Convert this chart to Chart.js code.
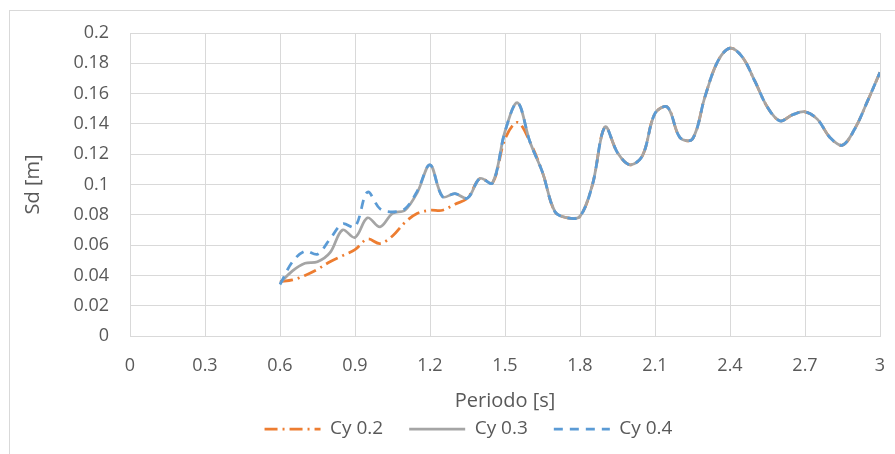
<html>

<head>
    <script src="https://cdn.jsdelivr.net/npm/chart.js"></script>
    <style>
        html, body {
            margin: 0;
            padding: 0;
            background: #ffffff;
            overflow: hidden;
        }

        #frame {
            position: absolute;
            left: 9px;
            top: 10px;
            width: 1000px;
            height: 1000px;
            border: 1px solid #d9d9d9;
        }

        #chart-container {
            position: absolute;
            left: 0;
            top: 0;
            width: 895px;
            height: 454px;
        }
    </style>
</head>

<body>
    <div id="frame"></div>
    <div id="chart-container">
        <canvas id="sd-chart"></canvas>
    </div>

    <script>
        // periods [s]
        const periods = [
            0.6, 0.65, 0.7, 0.75, 0.8, 0.85, 0.9, 0.95, 1.0, 1.05,
            1.1, 1.15, 1.2, 1.25, 1.3, 1.35, 1.4, 1.45, 1.5, 1.55,
            1.6, 1.65, 1.7, 1.75, 1.8, 1.85, 1.9, 1.95, 2.0, 2.05,
            2.1, 2.15, 2.2, 2.25, 2.3, 2.35, 2.4, 2.45, 2.5, 2.55,
            2.6, 2.65, 2.7, 2.75, 2.8, 2.85, 2.9, 2.95, 3.0
        ];

        // spectral displacement Sd [m]
        const sdCy02 = [
            0.036, 0.037, 0.040, 0.044, 0.049, 0.053, 0.057, 0.064, 0.061, 0.066,
            0.075, 0.081, 0.083, 0.083, 0.087, 0.091, 0.104, 0.101, 0.130, 0.141,
            0.128, 0.108, 0.082, 0.078, 0.079, 0.100, 0.138, 0.121, 0.113, 0.119,
            0.147, 0.151, 0.131, 0.130, 0.158, 0.181, 0.190, 0.184, 0.168, 0.151,
            0.142, 0.146, 0.148, 0.143, 0.131, 0.126, 0.137, 0.155, 0.174
        ];
        const sdCy03 = [
            0.035, 0.043, 0.048, 0.049, 0.055, 0.070, 0.065, 0.078, 0.072, 0.081,
            0.083, 0.095, 0.113, 0.092, 0.094, 0.091, 0.104, 0.101, 0.135, 0.154,
            0.128, 0.108, 0.082, 0.078, 0.079, 0.100, 0.138, 0.121, 0.113, 0.119,
            0.147, 0.151, 0.131, 0.130, 0.158, 0.181, 0.190, 0.184, 0.168, 0.151,
            0.142, 0.146, 0.148, 0.143, 0.131, 0.126, 0.137, 0.155, 0.174
        ];
        const sdCy04 = [
            0.034, 0.049, 0.056, 0.054, 0.064, 0.074, 0.072, 0.095, 0.084, 0.082,
            0.084, 0.096, 0.113, 0.092, 0.094, 0.091, 0.104, 0.101, 0.135, 0.154,
            0.128, 0.108, 0.082, 0.078, 0.079, 0.100, 0.138, 0.121, 0.113, 0.119,
            0.147, 0.151, 0.131, 0.130, 0.158, 0.181, 0.190, 0.184, 0.168, 0.151,
            0.142, 0.146, 0.148, 0.143, 0.131, 0.126, 0.137, 0.155, 0.174
        ];

        const seriesNames = ['Cy 0.2', 'Cy 0.3', 'Cy 0.4'];

        function toPoints(values) {
            return periods.map((t, i) => ({ x: t, y: values[i] }));
        }

        Chart.defaults.font.family = "'Open Sans', sans-serif";
        Chart.defaults.color = '#595959';

        const lineBase = {
            borderWidth: 2.75,
            pointRadius: 0,
            pointHoverRadius: 0,
            pointStyle: 'line',
            fill: false,
            tension: 0.35,
            borderCapStyle: 'butt'
        };

        // left padding pushes the centred legend to the right; the y axis
        // shrinks by the same amount so the plot still starts at x = 130
        const PAD_LEFT = 57;

        // legend samples use the line style of each dataset (dash, width)
        function legendLabels(chart) {
            const items = Chart.defaults.plugins.legend.labels.generateLabels(chart);
            items.forEach((item) => {
                const ds = chart.data.datasets[item.datasetIndex];
                item.lineDash = ds.borderDash || [];
                item.lineWidth = ds.borderWidth;
                item.strokeStyle = ds.borderColor;
                item.fillStyle = ds.borderColor;
            });
            return items;
        }

        const ctx = document.getElementById('sd-chart').getContext('2d');
        const chart = new Chart(ctx, {
            type: 'line',
            data: {
                datasets: [
                    Object.assign({}, lineBase, {
                        label: seriesNames[0],
                        data: toPoints(sdCy02),
                        borderColor: '#ED7D31',
                        borderDash: [13, 5, 2, 5],
                        order: 2
                    }),
                    Object.assign({}, lineBase, {
                        label: seriesNames[1],
                        data: toPoints(sdCy03),
                        borderColor: '#A5A5A5',
                        order: 1
                    }),
                    Object.assign({}, lineBase, {
                        label: seriesNames[2],
                        data: toPoints(sdCy04),
                        borderColor: '#5B9BD5',
                        borderDash: [9, 7],
                        order: 0
                    })
                ]
            },
            options: {
                responsive: true,
                maintainAspectRatio: false,
                animation: false,
                layout: {
                    padding: { left: PAD_LEFT, right: 15, top: 33, bottom: 5.5 }
                },
                plugins: {
                    tooltip: { enabled: false },
                    legend: {
                        position: 'bottom',
                        labels: {
                            usePointStyle: true,
                            pointStyleWidth: 56,
                            padding: 26,
                            color: '#595959',
                            font: { size: 19 },
                            generateLabels: legendLabels,
                            sort: (a, b) => a.datasetIndex - b.datasetIndex
                        }
                    }
                },
                scales: {
                    x: {
                        type: 'linear',
                        min: 0,
                        max: 3,
                        afterFit: (scale) => { scale.height = 57.5; },
                        grid: {
                            color: '#d9d9d9',
                            lineWidth: 1,
                            drawTicks: true,
                            tickLength: 19,
                            tickColor: 'rgba(0,0,0,0)'
                        },
                        border: { color: '#d9d9d9' },
                        ticks: {
                            stepSize: 0.3,
                            padding: 0,
                            font: { size: 18 },
                            callback: (v) => String(+v.toFixed(1))
                        },
                        title: {
                            display: true,
                            text: 'Periodo [s]',
                            font: { size: 20 },
                            padding: { top: 0, bottom: -19.5 }
                        }
                    },
                    y: {
                        min: 0,
                        max: 0.2,
                        afterFit: (scale) => { scale.width = 130 - PAD_LEFT; },
                        grid: { color: '#d9d9d9', lineWidth: 1, drawTicks: false },
                        border: { color: '#d9d9d9' },
                        ticks: {
                            stepSize: 0.02,
                            padding: 21,
                            font: { size: 18 },
                            callback: (v) => String(+v.toFixed(2))
                        },
                        title: {
                            display: true,
                            text: 'Sd [m]',
                            font: { size: 20 },
                            padding: { top: -36, bottom: 0 }
                        }
                    }
                }
            }
        });
    </script>
</body>

</html>
